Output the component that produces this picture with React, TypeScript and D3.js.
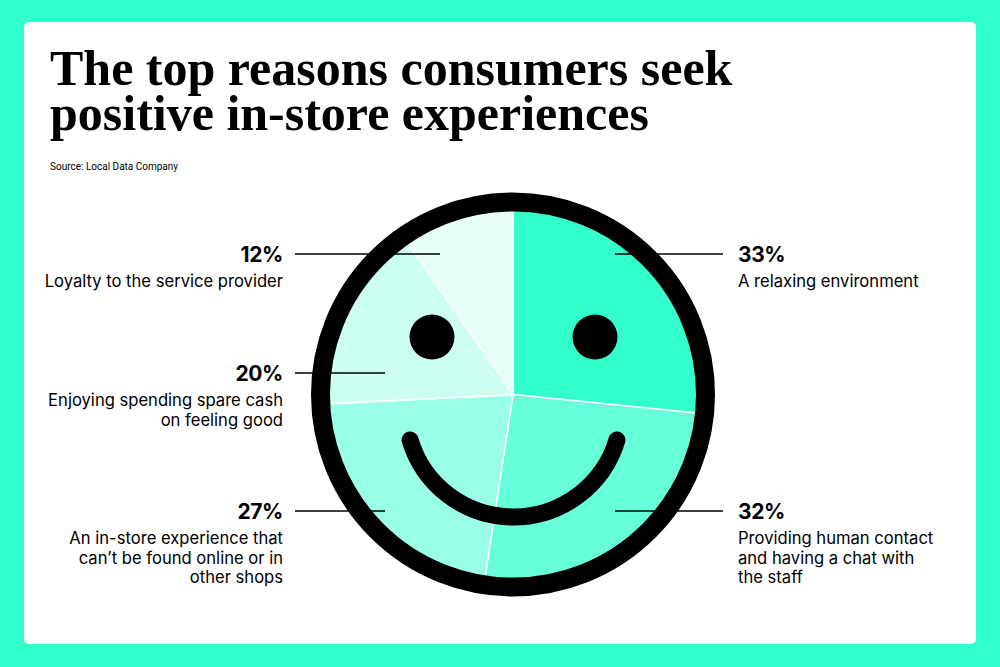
import React from "react";
import * as d3 from "d3";

const categories = [
  "A relaxing environment",
  "Providing human contact and having a chat with the staff",
  "An in-store experience that can't be found online or in other shops",
  "Enjoying spending spare cash on feeling good",
  "Loyalty to the service provider",
];
const values = [33, 32, 27, 20, 12];
const labelLines = [
  ["A relaxing environment"],
  ["Providing human contact", "and having a chat with", "the staff"],
  ["An in-store experience that", "can\u2019t be found online or in", "other shops"],
  ["Enjoying spending spare cash", "on feeling good"],
  ["Loyalty to the service provider"],
];
const colors = ["#33ffcc", "#66ffd9", "#99ffe6", "#ccfff2", "#e6fff9"];
const titleLines = ["The top reasons consumers seek", "positive in-store experiences"];

// layout (not data)
const W = 1000;
const H = 667;
const CX = 513;
const CY = 394.5;
const R_PIE = 184;
const R_RING = 192.5;
const RING_W = 19;
const labelLayout = [
  { side: "right", y: 254, x1: 615, x2: 723 },
  { side: "right", y: 511, x1: 615, x2: 723 },
  { side: "left", y: 511, x1: 295, x2: 385 },
  { side: "left", y: 373, x1: 295, x2: 385 },
  { side: "left", y: 254, x1: 295, x2: 440 },
];

const SANS = "Inter, Roboto, 'Noto Sans', sans-serif";

export default function App() {
  const pie = d3
    .pie<number>()
    .sort(null)
    .value((d) => d)
    .startAngle(0)
    .endAngle(2 * Math.PI);
  const arcs = pie(values);
  const arcGen = d3.arc<d3.PieArcDatum<number>>().innerRadius(0).outerRadius(R_PIE);

  // smile
  const smileR = 108;
  const smileCy = CY + 14.5;
  const a0 = Math.asin(31 / 108);
  const sp = d3.path();
  sp.arc(CX + 0.5, smileCy, smileR, a0, Math.PI - a0, false);

  return (
    <svg width={W} height={H} style={{ position: "absolute", left: 0, top: 0 }}>
      <rect x={0} y={0} width={W} height={H} fill="#33ffcc" />
      <rect x={24} y={22} width={952} height={622} rx={5} fill="#ffffff" />
      <text fontFamily="'Liberation Serif', 'Times New Roman', serif" fontWeight={700} fontSize={50} fill="#000">
        {titleLines.map((t, i) => (
          <tspan key={i} x={50} y={85 + i * 45}>
            {t}
          </tspan>
        ))}
      </text>
      <text x={50} y={170} fontFamily="Roboto, sans-serif" fontSize={10} fill="#000">
        Source: Local Data Company
      </text>

      <g transform={`translate(${CX},${CY})`}>
        {arcs.map((a, i) => (
          <path key={categories[i]} d={arcGen(a) || ""} fill={colors[i]} stroke="#ffffff" strokeWidth={1.5} strokeLinejoin="round" />
        ))}
      </g>

      {labelLayout.map((l, i) => (
        <line key={"l" + i} x1={l.x1} x2={l.x2} y1={l.y} y2={l.y} stroke="#000" strokeWidth={1.3} />
      ))}

      <circle cx={CX} cy={CY} r={R_RING} fill="none" stroke="#000" strokeWidth={RING_W} />
      <circle cx={CX - 81} cy={CY - 57.5} r={22.5} fill="#000" />
      <circle cx={CX + 82} cy={CY - 57.5} r={22.5} fill="#000" />
      <path d={sp.toString()} fill="none" stroke="#000" strokeWidth={17} strokeLinecap="round" />

      {labelLayout.map((l, i) => {
        const isLeft = l.side === "left";
        const tx = isLeft ? 283 : 738;
        const anchor = isLeft ? "end" : "start";
        return (
          <g key={"t" + i}>
            <text x={tx} y={l.y + 8} textAnchor={anchor} fontFamily={SANS} fontWeight={700} fontSize={21} letterSpacing={-0.4} fill="#000">
              {values[i]}%
            </text>
            {labelLines[i].map((s, j) => (
              <text key={j} x={tx} y={l.y + 33 + j * 19.5} textAnchor={anchor} fontFamily={SANS} fontSize={16.6} fill="#000">
                {s}
              </text>
            ))}
          </g>
        );
      })}
    </svg>
  );
}
